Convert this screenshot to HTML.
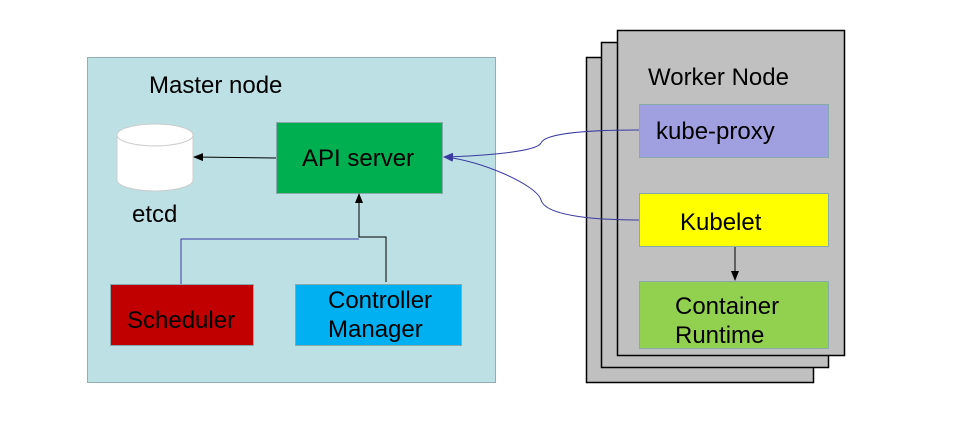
<!DOCTYPE html>
<html><head><meta charset="utf-8"><style>
html,body{margin:0;padding:0;background:#fff;width:960px;height:437px;overflow:hidden}
text{font-family:"Liberation Sans",sans-serif;font-size:24px;fill:#000}
</style></head><body>
<svg width="960" height="437" xmlns="http://www.w3.org/2000/svg">
<defs>
<marker id="ab" markerWidth="10" markerHeight="8" refX="9" refY="4" orient="auto" markerUnits="userSpaceOnUse"><path d="M0,0 L10,4 L0,8 Z" fill="#000"/></marker>
<marker id="ablue" markerWidth="10" markerHeight="8" refX="9" refY="4" orient="auto" markerUnits="userSpaceOnUse"><path d="M0,0 L10,4 L0,8 Z" fill="#3a3aa0"/></marker>
</defs>
<rect x="87.5" y="57.5" width="408" height="325" fill="#bce0e3" stroke="#8fb0b3"/>
<text x="149" y="93">Master node</text>
<path d="M117,135 L117,180 A38,11 0 0 0 193,180 L193,135" fill="#fff" stroke="#ccc"/>
<ellipse cx="155" cy="135" rx="38" ry="11" fill="#fff" stroke="#ccc"/>
<text x="132" y="222">etcd</text>
<rect x="276.5" y="122.5" width="166" height="71" fill="#00b050" stroke="#8aa"/>
<text x="302" y="166">API server</text>
<line x1="276" y1="158" x2="194" y2="157" stroke="#000" marker-end="url(#ab)"/>
<rect x="110.5" y="284.5" width="143" height="61" fill="#c00000" stroke="#8aa"/>
<text x="127" y="328">Scheduler</text>
<rect x="295.5" y="284.5" width="166" height="61" fill="#00b0f0" stroke="#8aa"/>
<text x="328" y="308">Controller</text>
<text x="328" y="337">Manager</text>
<polyline points="181,284 181,239 359,239" fill="none" stroke="#3a3aa0"/>
<polyline points="386,282 386,237 359,237 359,194" fill="none" stroke="#000" marker-end="url(#ab)"/>
<rect x="586.5" y="57.5" width="227" height="325" fill="#c0c0c0" stroke="#000" stroke-width="1.5"/>
<rect x="601.5" y="42.5" width="227" height="325" fill="#c0c0c0" stroke="#000" stroke-width="1.5"/>
<rect x="617.5" y="30.5" width="227" height="325" fill="#c0c0c0" stroke="#000" stroke-width="1.5"/>
<text x="648" y="85">Worker Node</text>
<rect x="639.5" y="104.5" width="189" height="53" fill="#a0a0e0" stroke="#8aa"/>
<text x="656" y="139">kube-proxy</text>
<rect x="639.5" y="193.5" width="189" height="53" fill="#ffff00" stroke="#8aa"/>
<text x="680" y="230">Kubelet</text>
<rect x="639.5" y="281.5" width="189" height="67" fill="#92d050" stroke="#8aa"/>
<text x="675" y="314">Container</text>
<text x="675" y="343">Runtime</text>
<line x1="735" y1="247" x2="735" y2="280" stroke="#000" marker-end="url(#ab)"/>
<path d="M639,130 C590,130 545,133 541,143 C537,152 480,156 444,157" fill="none" stroke="#3a3aa0" marker-end="url(#ablue)"/>
<path d="M639,220 C590,220 545,215 541,200 C537,185 480,160 444,157" fill="none" stroke="#3a3aa0" marker-end="url(#ablue)"/>
</svg>
</body></html>
